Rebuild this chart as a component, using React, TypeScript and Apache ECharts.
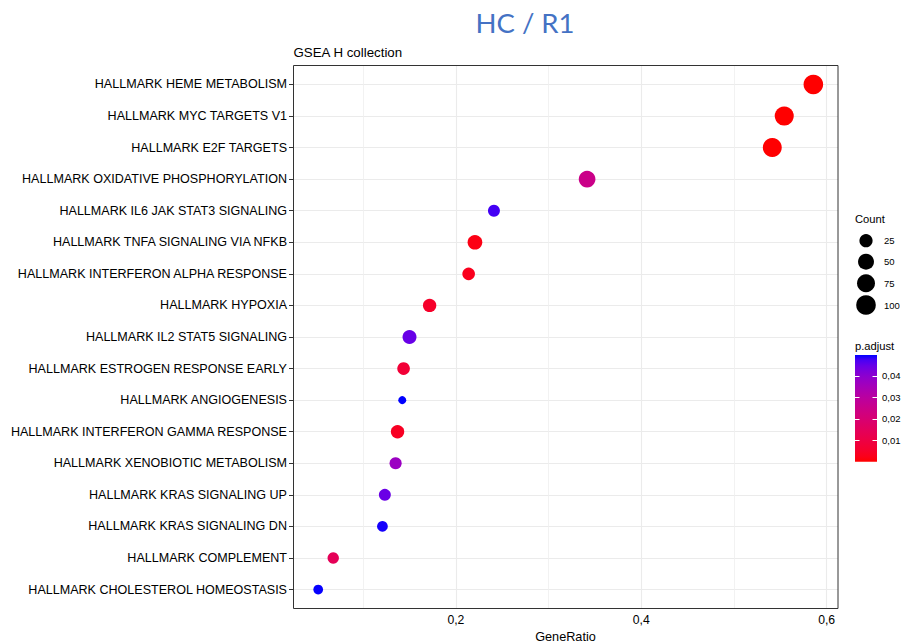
import React, { useEffect, useRef } from "react";
import * as echarts from "echarts";

// ---- data ----
const categories = [
  "HALLMARK HEME METABOLISM",
  "HALLMARK MYC TARGETS V1",
  "HALLMARK E2F TARGETS",
  "HALLMARK OXIDATIVE PHOSPHORYLATION",
  "HALLMARK IL6 JAK STAT3 SIGNALING",
  "HALLMARK TNFA SIGNALING VIA NFKB",
  "HALLMARK INTERFERON ALPHA RESPONSE",
  "HALLMARK HYPOXIA",
  "HALLMARK IL2 STAT5 SIGNALING",
  "HALLMARK ESTROGEN RESPONSE EARLY",
  "HALLMARK ANGIOGENESIS",
  "HALLMARK INTERFERON GAMMA RESPONSE",
  "HALLMARK XENOBIOTIC METABOLISM",
  "HALLMARK KRAS SIGNALING UP",
  "HALLMARK KRAS SIGNALING DN",
  "HALLMARK COMPLEMENT",
  "HALLMARK CHOLESTEROL HOMEOSTASIS",
];
const geneRatio = [
  0.5857, 0.5543, 0.5414, 0.3416, 0.2411, 0.2206, 0.2138, 0.1717, 0.150,
  0.1436, 0.1422, 0.1371, 0.135, 0.1234, 0.1208, 0.0677, 0.0515,
];
const counts = [100, 91, 90, 59, 17, 37, 21, 26, 31, 21, 6, 26, 18, 17, 11, 14, 8];
const pAdjust = [
  0.0001, 0.0001, 0.0002, 0.025, 0.0475, 0.002, 0.003, 0.005, 0.0447, 0.0075,
  0.0497, 0.004, 0.037, 0.0445, 0.049, 0.014, 0.0495,
];
const xTickValues = [0.2, 0.4, 0.6];
const xMinorGrid = [0.1, 0.3, 0.5];
const sizeBreaks = [25, 50, 75, 100];
const colorBreaks = [0.01, 0.02, 0.03, 0.04];

// ---- colour helpers (Lab interpolation like ggplot's gradient) ----
function toLin(c: number) {
  c /= 255;
  return c <= 0.04045 ? c / 12.92 : Math.pow((c + 0.055) / 1.055, 2.4);
}
function fromLin(c: number) {
  const v = c <= 0.0031308 ? 12.92 * c : 1.055 * Math.pow(c, 1 / 2.4) - 0.055;
  return Math.round(Math.max(0, Math.min(1, v)) * 255);
}
function rgbToLab(rgb: number[]) {
  const R = toLin(rgb[0]), G = toLin(rgb[1]), B = toLin(rgb[2]);
  const X = (0.4124 * R + 0.3576 * G + 0.1805 * B) / 0.95047;
  const Y = 0.2126 * R + 0.7152 * G + 0.0722 * B;
  const Z = (0.0193 * R + 0.1192 * G + 0.9505 * B) / 1.08883;
  const f = (t: number) => (t > 0.008856 ? Math.cbrt(t) : 7.787 * t + 16 / 116);
  const fx = f(X), fy = f(Y), fz = f(Z);
  return [116 * fy - 16, 500 * (fx - fy), 200 * (fy - fz)];
}
function labToHex(lab: number[]) {
  const fy = (lab[0] + 16) / 116;
  const fx = fy + lab[1] / 500;
  const fz = fy - lab[2] / 200;
  const inv = (t: number) => (t * t * t > 0.008856 ? t * t * t : (t - 16 / 116) / 7.787);
  const X = 0.95047 * inv(fx), Y = inv(fy), Z = 1.08883 * inv(fz);
  const r = fromLin(3.2406 * X - 1.5372 * Y - 0.4986 * Z);
  const g = fromLin(-0.9689 * X + 1.8758 * Y + 0.0415 * Z);
  const b = fromLin(0.0557 * X - 0.204 * Y + 1.057 * Z);
  return "#" + [r, g, b].map((v) => v.toString(16).padStart(2, "0")).join("");
}
const LOW = rgbToLab([255, 0, 0]);
const HIGH = rgbToLab([0, 0, 255]);
const NSTOPS = 21;
const gradientColors: string[] = [];
for (let i = 0; i < NSTOPS; i++) {
  const t = i / (NSTOPS - 1);
  gradientColors.push(labToHex(LOW.map((v, k) => v + (HIGH[k] - v) * t)));
}

// ---- size scale (area-like, as ggplot scale_size) ----
const cMin = Math.min(...counts);
const cMax = Math.max(...counts);
const D_MIN = 8;
const D_MAX = 19.6;
function dotSize(c: number) {
  const t = Math.max(0, (c - cMin) / (cMax - cMin));
  return D_MIN + (D_MAX - D_MIN) * Math.sqrt(t);
}

const pMin = Math.min(...pAdjust);
const pMax = Math.max(...pAdjust);

const FONT = "'Liberation Sans', Arial, sans-serif";

export default function App() {
  const ref = useRef<HTMLDivElement>(null);
  useEffect(() => {
    if (!ref.current) return;
    const chart = echarts.init(ref.current, undefined, { renderer: "svg" });

    const data = categories.map((name, i) => [geneRatio[i], i, counts[i], pAdjust[i], name]);

    // legend geometry
    const legX = 855;
    const sizeYs = [240.7, 261.7, 283.3, 305];
    const barTop = 355;
    const barBottom = 461.7;
    const barW = 22;
    const valToY = (v: number) => barBottom - ((v - pMin) / (pMax - pMin)) * (barBottom - barTop);

    const txt = (text: string, x: number, y: number, size: number, align = "left", extra: any = {}) => ({
      type: "text",
      x,
      y,
      style: {
        text,
        fill: "#000",
        fontSize: size,
        fontFamily: FONT,
        align,
        verticalAlign: "middle",
        textAlign: align,
        textVerticalAlign: "middle",
        ...extra,
      },
    });

    const graphic: any[] = [
      txt("HC / R1", 525, 22.5, 27.5, "center", {
        fill: "#4472C4",
        fontFamily: "Lato, 'Open Sans', sans-serif",
      }),
      txt("GSEA H collection", 293.5, 52, 13.3),
      {
        type: "rect",
        z: 100,
        shape: { x: 293.5, y: 65.5, width: 544.5, height: 543 },
        style: { fill: "none", stroke: "#333", lineWidth: 1 },
        silent: true,
      },
      txt("Count", legX, 219, 11.2),
      txt("p.adjust", legX, 346, 11.2),
      {
        type: "rect",
        shape: { x: legX, y: barTop, width: barW, height: barBottom - barTop },
        style: {
          fill: new echarts.graphic.LinearGradient(
            0,
            1,
            0,
            0,
            gradientColors.map((c, i) => ({ offset: i / (NSTOPS - 1), color: c }))
          ),
        },
      },
    ];
    sizeBreaks.forEach((b, i) => {
      graphic.push({
        type: "circle",
        shape: { cx: 866, cy: sizeYs[i], r: dotSize(b) / 2 },
        style: { fill: "#000" },
      });
      graphic.push(txt(String(b), 884, sizeYs[i], 9.5));
    });
    colorBreaks.forEach((b) => {
      const y = Math.round(valToY(b)) + 0.5;
      graphic.push({
        type: "line",
        shape: { x1: legX, y1: y, x2: legX + 4.5, y2: y },
        style: { stroke: "#fff", lineWidth: 1 },
      });
      graphic.push({
        type: "line",
        shape: { x1: legX + barW - 4.5, y1: y, x2: legX + barW, y2: y },
        style: { stroke: "#fff", lineWidth: 1 },
      });
      graphic.push(txt(b.toFixed(2).replace(".", ","), 882, valToY(b), 9.5));
    });

    const gridLineData: any[] = [];
    categories.forEach((_, i) =>
      gridLineData.push({ yAxis: i, lineStyle: { color: "#EBEBEB", width: 1.1, type: "solid" } })
    );
    xTickValues.forEach((v) =>
      gridLineData.push({ xAxis: v, lineStyle: { color: "#EBEBEB", width: 1.1, type: "solid" } })
    );
    xMinorGrid.forEach((v) =>
      gridLineData.push({ xAxis: v, lineStyle: { color: "#EFEFEF", width: 0.8, type: "solid" } })
    );

    const yIdx = categories.map((_, i) => i);

    chart.setOption({
      animation: false,
      backgroundColor: "#fff",
      textStyle: { fontFamily: FONT },
      grid: {
        left: 293,
        top: 65.5,
        width: 545,
        height: 543,
        show: false,
        containLabel: false,
        outerBoundsMode: "none",
      },
      xAxis: {
        type: "value",
        min: 0.0243,
        max: 0.6123,
        splitLine: { show: false },
        axisLine: { show: false },
        axisTick: {
          show: true,
          customValues: xTickValues,
          length: 4,
          lineStyle: { color: "#333", width: 1 },
        },
        axisLabel: {
          customValues: xTickValues,
          formatter: (v: number) => v.toFixed(1).replace(".", ","),
          color: "#000",
          fontSize: 12.2,
          fontFamily: FONT,
          margin: 5,
        },
        name: "GeneRatio",
        nameLocation: "middle",
        nameGap: 15.5,
        nameTextStyle: { color: "#000", fontSize: 12.7, fontFamily: FONT },
      },
      yAxis: {
        type: "value",
        inverse: true,
        min: -0.6,
        max: categories.length - 1 + 0.6,
        splitLine: { show: false },
        axisLine: { show: false },
        axisTick: {
          show: true,
          customValues: yIdx,
          length: 4,
          lineStyle: { color: "#333", width: 1 },
        },
        axisLabel: {
          customValues: yIdx,
          formatter: (v: number) => categories[Math.round(v)] ?? "",
          color: "#000",
          fontSize: 12.55,
          fontFamily: FONT,
          margin: 6,
        },
      },
      visualMap: {
        type: "continuous",
        show: false,
        dimension: 3,
        seriesIndex: 1,
        min: pMin,
        max: pMax,
        inRange: { color: gradientColors },
      },
      series: [
        {
          type: "scatter",
          data: [],
          z: 1,
          silent: true,
          markLine: {
            silent: true,
            symbol: "none",
            label: { show: false },
            animation: false,
            data: gridLineData,
          },
        },
        {
          type: "scatter",
          z: 5,
          data,
          encode: { x: 0, y: 1 },
          symbol: "circle",
          symbolSize: (val: any[]) => dotSize(val[2]),
          itemStyle: { opacity: 1 },
        },
      ],
      graphic,
    });

    return () => chart.dispose();
  }, []);

  return (
    <div
      ref={ref}
      style={{ position: "fixed", left: 0, top: 0, width: 909, height: 644, background: "#fff" }}
    />
  );
}
